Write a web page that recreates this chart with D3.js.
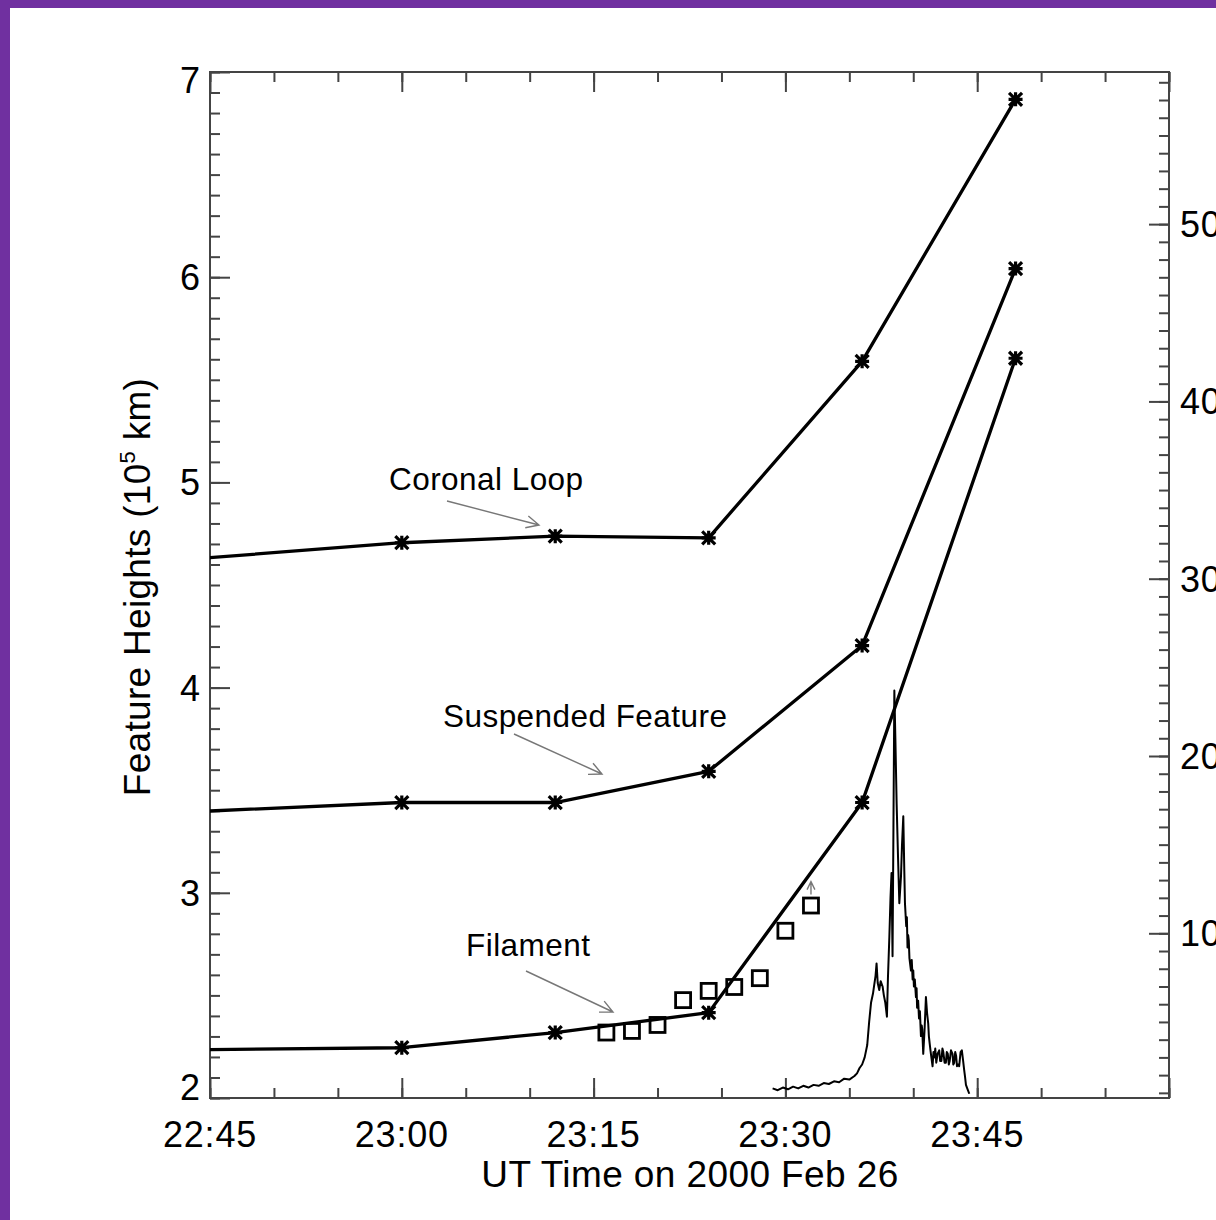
<!DOCTYPE html>
<html>
<head>
<meta charset="utf-8">
<script src="https://cdn.jsdelivr.net/npm/d3@7"></script>
<style>
  html, body { margin: 0; padding: 0; background: #fff; }
  svg { display: block; }
  text { font-family: "Liberation Sans", Arial, Helvetica, sans-serif; fill: #000; }
</style>
</head>
<body>
<svg id="chart" width="1216" height="1220"></svg>
<script>
// ---- DATA (time in minutes after 23:00 UT) ----
const featureTimes = [-24, 0, 12, 24, 36, 48];
const coronalLoop = [4.590, 4.706, 4.738, 4.730, 5.590, 6.867];
const suspendedFeature = [3.374, 3.440, 3.440, 3.592, 4.205, 6.042];
const filament = [2.230, 2.245, 2.319, 2.416, 3.440, 5.605];

const squareTimes = [16, 18, 20, 22, 24, 26, 28, 30, 32];
const squareHeights = [2.319, 2.327, 2.356, 2.477, 2.522, 2.541, 2.584, 2.815, 2.938];

const flareT = [29.0, 29.4, 29.8, 30.2, 30.6, 31.0, 31.4, 31.8, 32.2, 32.6, 33.0, 33.4, 33.8, 34.2, 34.6, 35.0, 35.4, 35.6, 35.8, 36.0,
  36.2, 36.4, 36.55, 36.7, 36.85, 36.95, 37.05, 37.13, 37.22, 37.34, 37.45, 37.6, 37.7, 37.81, 37.94, 38.02, 38.13, 38.22, 38.3, 38.38,
  38.45, 38.52, 38.6, 38.7, 38.8, 38.91, 39.04, 39.12, 39.22, 39.3, 39.35, 39.45, 39.5, 39.55, 39.6, 39.65, 39.7, 39.75, 39.82, 39.88,
  39.95, 40.0, 40.05, 40.12, 40.21, 40.26, 40.3, 40.38, 40.45, 40.52, 40.6, 40.66, 40.7, 40.78, 40.88, 40.99, 41.08, 41.17, 41.22, 41.28,
  41.33, 41.38, 41.51, 41.58, 41.65, 41.72, 41.8, 41.9, 42.03, 42.1, 42.2, 42.28, 42.35, 42.45, 42.55, 42.62, 42.7, 42.78, 42.85, 42.95,
  43.07, 43.13, 43.2, 43.28, 43.35, 43.42, 43.5, 43.59, 43.7, 43.8, 43.9, 43.98, 44.05, 44.12, 44.25, 44.38];
const flareFlux = [1.25, 1.15, 1.3, 1.2, 1.35, 1.25, 1.4, 1.3, 1.45, 1.4, 1.55, 1.5, 1.65, 1.6, 1.8, 1.75, 1.95, 2.1, 2.4, 2.6,
  3.0, 3.7, 5.0, 6.1, 6.6, 7.1, 7.6, 8.3, 7.2, 6.8, 7.3, 7.0, 6.5, 6.1, 5.3, 7.5, 9.8, 12.0, 13.4, 8.7,
  16.0, 23.7, 21.0, 17.3, 14.5, 11.7, 13.2, 15.0, 16.6, 13.5, 11.7, 10.4, 10.9, 9.2, 9.9, 9.6, 8.6, 8.3, 7.9, 8.5,
  7.4, 7.9, 7.0, 7.4, 6.4, 6.9, 5.8, 6.2, 5.2, 5.6, 4.2, 4.8, 4.6, 3.2, 4.5, 6.4, 5.5, 4.9, 4.2, 3.8,
  3.5, 3.2, 2.5, 3.3, 3.0, 3.5, 2.7, 3.2, 3.4, 2.8, 2.8, 3.5, 3.3, 2.7, 2.7, 3.3, 3.2, 2.6, 2.8, 3.4,
  3.2, 2.6, 2.7, 3.3, 3.1, 2.5, 2.6, 2.5, 3.3, 3.4, 2.8, 2.3, 1.9, 1.45, 1.2, 0.95];

const xTickValues = [-15, 0, 15, 30, 45];
const xTickLabels = ["22:45", "23:00", "23:15", "23:30", "23:45"];
const yTickValues = [2, 3, 4, 5, 6, 7];
const rightTickValues = [10, 20, 30, 40, 50];

const annotations = [
  { text: "Coronal Loop", tx: 389, ty: 490, ax1: 447, ay1: 501, ax2: 539, ay2: 525 },
  { text: "Suspended Feature", tx: 443, ty: 727, ax1: 514, ay1: 734, ax2: 602, ay2: 774 },
  { text: "Filament", tx: 466, ty: 956, ax1: 526, ay1: 971, ax2: 613, ay2: 1012 }
];

// ---- LAYOUT ----
const L = 210, R = 1169, T = 72, B = 1098;
const svg = d3.select("#chart");

// purple frame
svg.append("rect").attr("x", 0).attr("y", 0).attr("width", 1216).attr("height", 8).attr("fill", "#7030a0");
svg.append("rect").attr("x", 0).attr("y", 0).attr("width", 10).attr("height", 1220).attr("fill", "#7030a0");

const x = d3.scaleLinear().domain([-15, 60]).range([L, R]);
const y = d3.scaleLinear().domain([2, 7]).range([B, T]);
const yR = d3.scaleLinear().domain([0.71, 58.58]).range([B, T]);

const axisColor = "#444";

svg.append("defs").append("clipPath").attr("id", "plotclip")
  .append("rect").attr("x", L).attr("y", T).attr("width", R - L).attr("height", B - T);

// ---- AXES ----
function styleAxis(g) {
  g.select(".domain").remove();
  g.selectAll("line").attr("stroke", axisColor).attr("stroke-width", 2);
}
const xMinor = d3.range(-15, 61, 5);
svg.append("g").attr("transform", `translate(0,${B})`)
  .call(d3.axisTop(x).tickValues(xMinor).tickSize(10).tickFormat(""))
  .call(styleAxis);
svg.append("g").attr("transform", `translate(0,${B})`)
  .call(d3.axisTop(x).tickValues(xTickValues.concat([60])).tickSize(20).tickFormat(""))
  .call(styleAxis);
svg.append("g").attr("transform", `translate(0,${T})`)
  .call(d3.axisBottom(x).tickValues(xMinor).tickSize(10).tickFormat(""))
  .call(styleAxis);
svg.append("g").attr("transform", `translate(0,${T})`)
  .call(d3.axisBottom(x).tickValues(xTickValues.concat([60])).tickSize(20).tickFormat(""))
  .call(styleAxis);
const yMinor = d3.range(20, 71, 1).map(d => d / 10);
svg.append("g").attr("transform", `translate(${L},0)`)
  .call(d3.axisRight(y).tickValues(yMinor).tickSize(10).tickFormat(""))
  .call(styleAxis);
svg.append("g").attr("transform", `translate(${L},0)`)
  .call(d3.axisRight(y).tickValues(yTickValues).tickSize(20).tickFormat(""))
  .call(styleAxis);
const rMinor = d3.range(1, 59, 1);
svg.append("g").attr("transform", `translate(${R},0)`)
  .call(d3.axisLeft(yR).tickValues(rMinor).tickSize(10).tickFormat(""))
  .call(styleAxis);
svg.append("g").attr("transform", `translate(${R},0)`)
  .call(d3.axisLeft(yR).tickValues(rightTickValues).tickSize(20).tickFormat(""))
  .call(styleAxis);

svg.append("rect").attr("x", L).attr("y", T).attr("width", R - L).attr("height", B - T)
  .attr("fill", "none").attr("stroke", axisColor).attr("stroke-width", 2);

// tick labels
const tickFont = 36;
svg.append("g").selectAll("text").data(xTickValues).join("text")
  .attr("x", d => x(d)).attr("y", 1147)
  .attr("text-anchor", "middle").attr("font-size", tickFont).attr("letter-spacing", 0.8)
  .text((d, i) => xTickLabels[i]);

svg.append("g").selectAll("text").data(yTickValues).join("text")
  .attr("x", 200)
  .attr("y", d => y(d) + 13 + (d === 7 ? 8 : 0) + (d === 2 ? -11 : 0))
  .attr("text-anchor", "end").attr("font-size", tickFont)
  .text(d => d);

svg.append("g").selectAll("text").data(rightTickValues).join("text")
  .attr("x", 1180).attr("y", d => yR(d) + 13)
  .attr("text-anchor", "start").attr("font-size", tickFont).attr("letter-spacing", 0.8)
  .text(d => d);

// axis titles
svg.append("text").attr("x", 690).attr("y", 1187).attr("text-anchor", "middle")
  .attr("font-size", 37).attr("letter-spacing", 0.4).text("UT Time on 2000 Feb 26");

const yt = svg.append("text").attr("transform", "translate(150,587) rotate(-90)")
  .attr("text-anchor", "middle").attr("font-size", 37).attr("letter-spacing", 0.3);
yt.append("tspan").text("Feature Heights (10");
yt.append("tspan").attr("font-size", 22).attr("dy", -15).text("5");
yt.append("tspan").attr("dy", 15).text(" km)");

// ---- DATA MARKS ----
const plot = svg.append("g").attr("clip-path", "url(#plotclip)");

const series = [coronalLoop, suspendedFeature, filament];
const line = d3.line().x(d => x(d[0])).y(d => y(d[1]));
series.forEach(vals => {
  const pts = featureTimes.map((t, i) => [t, vals[i]]);
  plot.append("path").attr("d", line(pts)).attr("fill", "none")
    .attr("stroke", "#000").attr("stroke-width", 3.3).attr("stroke-linejoin", "round");
  const inDomain = pts.filter(p => p[0] >= -15 && p[0] <= 60);
  const stars = plot.append("g").selectAll("g").data(inDomain).join("g")
    .attr("transform", p => `translate(${x(p[0])},${y(p[1])})`);
  const a = 7, b = 6.5;
  const starPath = `M${-a},0L${a},0M0,${-a}L0,${a}M${-b},${-b}L${b},${b}M${-b},${b}L${b},${-b}`;
  stars.append("path").attr("d", starPath).attr("stroke", "#000").attr("stroke-width", 3.2).attr("fill", "none");
});

// squares
const sq = 15;
plot.append("g").selectAll("rect").data(squareTimes).join("rect")
  .attr("x", (d) => x(d) - sq / 2)
  .attr("y", (d, i) => y(squareHeights[i]) - sq / 2)
  .attr("width", sq).attr("height", sq)
  .attr("fill", "none").attr("stroke", "#000").attr("stroke-width", 2.8);

// flare light curve (right axis)
const flareLine = d3.line().x(d => x(d[0])).y(d => yR(d[1]));
plot.append("path").attr("d", flareLine(flareT.map((t, i) => [t, flareFlux[i]])))
  .attr("fill", "none").attr("stroke", "#000").attr("stroke-width", 2).attr("stroke-linejoin", "round");

function arrow(g, x1, y1, x2, y2, head) {
  const ang = Math.atan2(y2 - y1, x2 - x1);
  const h = head, w = 0.45;
  const p1 = [x2 - h * Math.cos(ang - w), y2 - h * Math.sin(ang - w)];
  const p2 = [x2 - h * Math.cos(ang + w), y2 - h * Math.sin(ang + w)];
  g.append("path")
    .attr("d", `M${x1},${y1}L${x2},${y2}M${p1[0]},${p1[1]}L${x2},${y2}L${p2[0]},${p2[1]}`)
    .attr("fill", "none").attr("stroke", "#777").attr("stroke-width", 1.4);
}
const lastIdx = squareTimes.length - 1;
const lx = x(squareTimes[lastIdx]), ly = y(squareHeights[lastIdx]);
arrow(svg, lx, ly - 11, lx, ly - 24, 9);

// annotations
annotations.forEach(a => {
  svg.append("text").attr("x", a.tx).attr("y", a.ty).attr("font-size", 31.5)
    .attr("letter-spacing", 0.45).text(a.text);
  arrow(svg, a.ax1, a.ay1, a.ax2, a.ay2, 14);
});
</script>
</body>
</html>
